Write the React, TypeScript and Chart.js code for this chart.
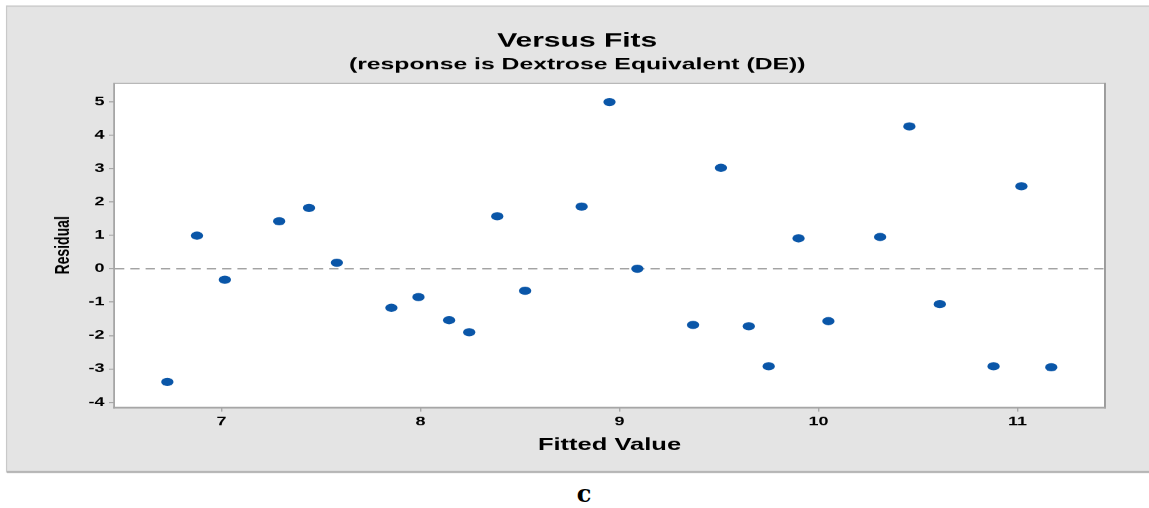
import React, { useEffect, useRef } from 'react';
import { Chart, registerables } from 'chart.js';

Chart.register(...registerables);

// ---- data ----
const fittedValues = [
  6.728, 6.877, 7.017, 7.29, 7.44, 7.58, 7.854, 7.99, 8.144, 8.245, 8.386, 8.526,
  8.81, 8.95, 9.09, 9.37, 9.51, 9.65, 9.75, 9.9, 10.05, 10.31, 10.457, 10.61,
  10.88, 11.02, 11.17,
];
const residuals = [
  -3.39, 0.99, -0.33, 1.42, 1.82, 0.18, -1.17, -0.85, -1.54, -1.9, 1.57, -0.66,
  1.86, 4.99, 0.0, -1.68, 3.02, -1.72, -2.92, 0.91, -1.57, 0.95, 4.26, -1.06,
  -2.92, 2.47, -2.95,
];
const xTickValues = [7, 8, 9, 10, 11];
const yTickValues = [-4, -3, -2, -1, 0, 1, 2, 3, 4, 5];
const xRange = [6.465, 11.435];
const yRange = [-4.13, 5.53];
const referenceY = [0, 0];

const titleText = 'Versus Fits';
const subtitleText = '(response is Dextrose Equivalent (DE))';
const xTitle = 'Fitted Value';
const yTitle = 'Residual';
const captionText = 'c';

// ---- layout (inner canvas is stretched horizontally like the reference) ----
const STRETCH = 1.5;
const INNER_W = 766;
const H = 474;
const FONT = "'Liberation Sans', Arial, sans-serif";

const panelPlugin = {
  id: 'panelBackground',
  beforeDraw(chart: any) {
    const { ctx, width, height, chartArea: a } = chart;
    ctx.save();
    ctx.fillStyle = '#ffffff';
    ctx.fillRect(0, 0, width, height);
    const px = 7 / STRETCH;
    ctx.fillStyle = '#e4e4e4';
    ctx.fillRect(px, 6, width - px, 466);
    ctx.fillStyle = '#c9c9c9';
    ctx.fillRect(px, 5.5, width - px, 1.2);
    ctx.fillRect(px - 0.7, 5.5, 0.8, 467);
    ctx.fillStyle = '#b0b0b0';
    ctx.fillRect(px, 471, width - px, 2);
    ctx.fillStyle = '#ffffff';
    ctx.fillRect(a.left, a.top, a.right - a.left, a.bottom - a.top);
    ctx.restore();
  },
  beforeDatasetsDraw(chart: any) {
    const { ctx, chartArea: a } = chart;
    const w = a.right - a.left;
    const h = a.bottom - a.top;
    ctx.save();
    ctx.fillStyle = '#b6b6b6';
    ctx.fillRect(a.left, a.top - 1.2, w, 1.2);
    ctx.fillStyle = '#a6a6a6';
    ctx.fillRect(a.left - 1.2, a.top - 1.2, 1.2, h + 3);
    ctx.fillStyle = '#9c9c9c';
    ctx.fillRect(a.right, a.top - 1.2, 1.3, h + 3);
    ctx.fillStyle = '#a6a6a6';
    ctx.fillRect(a.left - 1.2, a.bottom, w + 2.5, 1.8);
    ctx.restore();
  },
};

export default function App() {
  const canvasRef = useRef<HTMLCanvasElement | null>(null);

  useEffect(() => {
    if (!canvasRef.current) return;
    const points = fittedValues.map((x, i) => ({ x, y: residuals[i] }));
    const refLine = xRange.map((x, i) => ({ x, y: referenceY[i] }));

    const chart = new Chart(canvasRef.current, {
      type: 'scatter',
      data: {
        datasets: [
          {
            type: 'scatter',
            label: 'Residual',
            data: points,
            pointRadius: 4.1,
            pointHoverRadius: 4.1,
            pointBackgroundColor: '#0a56a8',
            pointBorderWidth: 0,
            borderWidth: 0,
            order: 0,
          },
          {
            type: 'line',
            label: 'zero',
            data: refLine,
            borderColor: '#a3a3a3',
            borderWidth: 1.5,
            borderDash: [6.2, 4],
            pointRadius: 0,
            fill: false,
            order: 1,
          } as any,
        ],
      },
      options: {
        animation: false,
        responsive: true,
        maintainAspectRatio: false,
        devicePixelRatio: 1.5,
        layout: { padding: { left: 33.6, right: 30, top: 0, bottom: 18.8 } },
        plugins: {
          legend: { display: false },
          tooltip: { enabled: false },
          title: {
            display: true,
            text: titleText,
            color: '#000000',
            font: { family: FONT, size: 20, weight: 'bold', lineHeight: 1.2 },
            padding: { top: 29, bottom: 0 },
          },
          subtitle: {
            display: true,
            text: subtitleText,
            color: '#000000',
            font: { family: FONT, size: 16.5, weight: 'bold', lineHeight: 1.2 },
            padding: { top: 1.6, bottom: 9.6 },
          },
        },
        scales: {
          x: {
            type: 'linear',
            min: xRange[0],
            max: xRange[1],
            afterBuildTicks: (s: any) => {
              s.ticks = xTickValues.map((v) => ({ value: v }));
            },
            afterFit: (s: any) => {
              s.height = 48.5;
            },
            ticks: {
              includeBounds: false,
              color: '#000000',
              padding: 3,
              maxRotation: 0,
              font: { family: FONT, size: 12, weight: 'bold' },
            },
            grid: {
              display: true,
              drawOnChartArea: false,
              drawTicks: true,
              tickLength: 5,
              tickColor: '#a0a0a0',
              tickWidth: 0.8,
            },
            border: { display: false },
            title: {
              display: true,
              text: xTitle,
              color: '#000000',
              font: { family: FONT, size: 17, weight: 'bold', lineHeight: 1.2 },
              padding: 0,
            },
          },
          y: {
            type: 'linear',
            min: yRange[0],
            max: yRange[1],
            afterBuildTicks: (s: any) => {
              s.ticks = yTickValues.map((v) => ({ value: v }));
            },
            afterFit: (s: any) => {
              s.width = 43.07;
            },
            ticks: {
              includeBounds: false,
              color: '#000000',
              padding: 3,
              font: { family: FONT, size: 12, weight: 'bold' },
            },
            grid: {
              display: true,
              drawOnChartArea: false,
              drawTicks: true,
              tickLength: 4,
              tickColor: '#a0a0a0',
              tickWidth: 1,
            },
            border: { display: false },
            title: {
              display: true,
              text: yTitle,
              color: '#000000',
              font: { family: FONT, size: 14, weight: 'bold', lineHeight: 1.2 },
              padding: 0,
            },
          },
        },
      },
      plugins: [panelPlugin],
    });

    return () => {
      chart.destroy();
    };
  }, []);

  return (
    <div style={{ position: 'absolute', left: 0, top: 0, width: 1149, height: 508 }}>
      <div
        style={{
          position: 'absolute',
          left: 0,
          top: 0,
          width: INNER_W,
          height: H,
          transform: `scaleX(${STRETCH})`,
          transformOrigin: '0 0',
        }}
      >
        <canvas ref={canvasRef} />
      </div>
      <div
        style={{
          position: 'absolute',
          left: 0,
          top: 479,
          width: 1168,
          textAlign: 'center',
          fontFamily: "'DejaVu Serif', 'Liberation Serif', serif",
          fontWeight: 'bold',
          fontSize: 24,
          lineHeight: '30px',
          color: '#000000',
        }}
      >
        {captionText}
      </div>
    </div>
  );
}
